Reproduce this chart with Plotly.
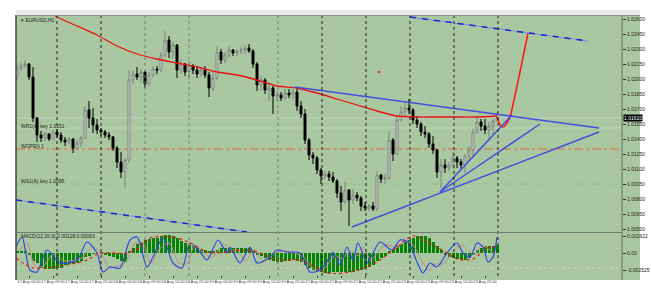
import plotly.graph_objects as go

W, H = 651, 295

# ---------------- price data (H1 bars) ----------------
bar_index = list(range(121))
open_ = [1.0203, 1.0211, 1.0213, 1.0215, 1.0202, 1.0161, 1.0144, 1.0141, 1.0145, 1.0140,
         1.0147, 1.0144, 1.0139, 1.0137, 1.0140, 1.0131, 1.0136, 1.0141, 1.0169, 1.0161,
         1.0154, 1.0149, 1.0147, 1.0144, 1.0142, 1.0131, 1.0117, 1.0107, 1.0119, 1.0199,
         1.0205, 1.0202, 1.0207, 1.0195, 1.0204, 1.0210, 1.0209, 1.0224, 1.0239, 1.0227,
         1.0234, 1.0209, 1.0215, 1.0207, 1.0213, 1.0209, 1.0205, 1.0209, 1.0204, 1.0191,
         1.0201, 1.0227, 1.0219, 1.0224, 1.0229, 1.0226, 1.0228, 1.0229, 1.0231, 1.0228,
         1.0215, 1.0194, 1.0199, 1.0189, 1.0191, 1.0183, 1.0184, 1.0181, 1.0186, 1.0184,
         1.0187, 1.0173, 1.0165, 1.0139, 1.0124, 1.0121, 1.0109, 1.0103, 1.0105, 1.0102,
         1.0098, 1.0086, 1.0077, 1.0089, 1.0079, 1.0084, 1.0081, 1.0073, 1.0071, 1.0073,
         1.0070, 1.0104, 1.0100, 1.0101, 1.0139, 1.0125, 1.0159, 1.0167, 1.0171, 1.0169,
         1.0159, 1.0155, 1.0147, 1.0145, 1.0135, 1.0129, 1.0107, 1.0114, 1.0111, 1.0114,
         1.0121, 1.0117, 1.0114, 1.0123, 1.0129, 1.0147, 1.0157, 1.0153, 1.0149, 1.0153,
         1.0158]
high = [1.0215, 1.0216, 1.0219, 1.0216, 1.0212, 1.0162, 1.0148, 1.0147, 1.0146, 1.0149,
        1.0150, 1.0147, 1.0142, 1.0142, 1.0141, 1.0139, 1.0143, 1.0173, 1.0178, 1.0171,
        1.0160, 1.0151, 1.0149, 1.0147, 1.0143, 1.0133, 1.0127, 1.0121, 1.0209, 1.0209,
        1.0212, 1.0210, 1.0208, 1.0207, 1.0213, 1.0213, 1.0227, 1.0248, 1.0243, 1.0237,
        1.0235, 1.0220, 1.0216, 1.0218, 1.0215, 1.0213, 1.0212, 1.0213, 1.0207, 1.0207,
        1.0233, 1.0230, 1.0227, 1.0233, 1.0230, 1.0230, 1.0232, 1.0234, 1.0235, 1.0230,
        1.0217, 1.0203, 1.0201, 1.0197, 1.0193, 1.0188, 1.0187, 1.0190, 1.0190, 1.0190,
        1.0191, 1.0178, 1.0170, 1.0141, 1.0127, 1.0123, 1.0111, 1.0108, 1.0108, 1.0107,
        1.0100, 1.0093, 1.0097, 1.0090, 1.0090, 1.0087, 1.0083, 1.0077, 1.0075, 1.0077,
        1.0108, 1.0105, 1.0105, 1.0147, 1.0141, 1.0163, 1.0173, 1.0177, 1.0180, 1.0171,
        1.0163, 1.0157, 1.0153, 1.0147, 1.0143, 1.0130, 1.0120, 1.0120, 1.0117, 1.0127,
        1.0123, 1.0120, 1.0125, 1.0133, 1.0150, 1.0163, 1.0160, 1.0160, 1.0157, 1.0160,
        1.0167]
low = [1.0199, 1.0208, 1.0211, 1.0199, 1.0157, 1.0137, 1.0137, 1.0138, 1.0138, 1.0139,
       1.0141, 1.0136, 1.0133, 1.0135, 1.0126, 1.0130, 1.0132, 1.0140, 1.0151, 1.0146,
       1.0145, 1.0143, 1.0141, 1.0139, 1.0128, 1.0111, 1.0101, 1.0091, 1.0116, 1.0195,
       1.0199, 1.0196, 1.0191, 1.0193, 1.0202, 1.0205, 1.0207, 1.0222, 1.0221, 1.0221,
       1.0201, 1.0205, 1.0203, 1.0200, 1.0205, 1.0201, 1.0203, 1.0201, 1.0182, 1.0188,
       1.0199, 1.0215, 1.0216, 1.0221, 1.0223, 1.0223, 1.0225, 1.0225, 1.0226, 1.0211,
       1.0188, 1.0188, 1.0185, 1.0178, 1.0165, 1.0178, 1.0178, 1.0179, 1.0181, 1.0180,
       1.0168, 1.0161, 1.0135, 1.0119, 1.0115, 1.0105, 1.0095, 1.0100, 1.0098, 1.0096,
       1.0081, 1.0068, 1.0075, 1.0053, 1.0075, 1.0078, 1.0068, 1.0068, 1.0068, 1.0068,
       1.0068, 1.0096, 1.0095, 1.0099, 1.0118, 1.0123, 1.0158, 1.0161, 1.0165, 1.0155,
       1.0151, 1.0143, 1.0141, 1.0131, 1.0125, 1.0101, 1.0091, 1.0106, 1.0108, 1.0110,
       1.0111, 1.0110, 1.0106, 1.0118, 1.0121, 1.0145, 1.0148, 1.0145, 1.0138, 1.0145,
       1.0158]
close = [1.0211, 1.0213, 1.0215, 1.0202, 1.0161, 1.0144, 1.0141, 1.0145, 1.0140, 1.0147,
         1.0144, 1.0139, 1.0137, 1.0140, 1.0131, 1.0136, 1.0141, 1.0169, 1.0161, 1.0154,
         1.0149, 1.0147, 1.0144, 1.0142, 1.0131, 1.0117, 1.0107, 1.0119, 1.0199, 1.0205,
         1.0202, 1.0207, 1.0195, 1.0204, 1.0210, 1.0209, 1.0224, 1.0239, 1.0227, 1.0234,
         1.0209, 1.0215, 1.0207, 1.0213, 1.0209, 1.0205, 1.0209, 1.0204, 1.0191, 1.0201,
         1.0227, 1.0219, 1.0224, 1.0229, 1.0226, 1.0228, 1.0229, 1.0231, 1.0228, 1.0215,
         1.0194, 1.0199, 1.0189, 1.0191, 1.0183, 1.0184, 1.0181, 1.0186, 1.0184, 1.0187,
         1.0173, 1.0165, 1.0139, 1.0124, 1.0121, 1.0109, 1.0103, 1.0105, 1.0102, 1.0098,
         1.0086, 1.0077, 1.0089, 1.0079, 1.0084, 1.0081, 1.0073, 1.0071, 1.0073, 1.0070,
         1.0104, 1.0100, 1.0101, 1.0139, 1.0125, 1.0159, 1.0167, 1.0171, 1.0169, 1.0159,
         1.0155, 1.0147, 1.0145, 1.0135, 1.0129, 1.0107, 1.0114, 1.0111, 1.0114, 1.0121,
         1.0117, 1.0114, 1.0123, 1.0129, 1.0147, 1.0157, 1.0153, 1.0149, 1.0153, 1.0158,
         1.0161]

# moving average (red)
ma_idx = [9, 10, 15, 20, 25, 30, 35, 40, 45, 50, 55, 60, 65, 70, 75, 80, 85, 90, 95, 100, 105, 110, 115, 120]
ma_val = [1.0265, 1.0262, 1.0253, 1.0244, 1.0233, 1.0225, 1.0220, 1.0216, 1.0212, 1.0207, 1.0204, 1.0199,
          1.0193, 1.0191, 1.0186, 1.0180, 1.0174, 1.0168, 1.0163, 1.0162, 1.0162, 1.0162, 1.0162, 1.0163]

# hand-drawn forecast path (red)
fc_idx = [120, 120.75, 121.5, 122.5, 123.25, 127.75]
fc_val = [1.0162, 1.0154, 1.0152, 1.0156, 1.0162, 1.0246]

# trend lines (blue): (start idx, start price, end idx, end price)
trend_solid = [
    (69.5, 1.0192, 145.5, 1.0151),
    (83.75, 1.0052, 145.5, 1.0147),
    (105.75, 1.0087, 130.75, 1.0155),
    (105.75, 1.0087, 123.75, 1.0164),
]
trend_dashed = [
    (98.25, 1.0262, 142.75, 1.0238),
    (-0.25, 1.0079, 57.5, 1.0047),
]

# horizontal levels
current_price = 1.0161
level_faint = 1.0151
level_orange = 1.0130
level_green = 1.0095

session_black = [10, 21, 76.25, 87.25, 98.25, 109.25, 120.25]
session_grey = [32, 43, 65.25]

price_ticks = [1.0260, 1.0245, 1.0230, 1.0215, 1.0200, 1.0185, 1.0170, 1.0155,
               1.0140, 1.0125, 1.0110, 1.0095, 1.0080, 1.0065, 1.0050]
price_tick_text = ["1.02600", "1.02450", "1.02300", "1.02150", "1.02000", "1.01850", "1.01700",
                   "1.01550", "1.01400", "1.01250", "1.01100", "1.00950", "1.00800", "1.00650", "1.00500"]

time_ticks = [3, 9, 15, 21, 27, 33, 39, 45, 51, 57, 63, 69, 75, 81, 87, 93, 99, 105, 111, 117]
time_text = ["17 Aug 03:00", "17 Aug 09:00", "17 Aug 15:00", "17 Aug 21:00", "18 Aug 03:00",
             "18 Aug 09:00", "18 Aug 15:00", "18 Aug 21:00", "19 Aug 03:00", "19 Aug 09:00",
             "19 Aug 15:00", "19 Aug 21:00", "22 Aug 03:00", "22 Aug 09:00", "22 Aug 15:00",
             "22 Aug 21:00", "23 Aug 03:00", "23 Aug 09:00", "23 Aug 15:00", "23 Aug 21:00"]

# ---------------- oscillator data ----------------
macd_hist = [0.0003, 0.0003, 0.0002, -0.0002, -0.0012, -0.0015, -0.0022, -0.0024, -0.0024, -0.0024,
             -0.0023, -0.0022, -0.0018, -0.0017, -0.0016, -0.0015, -0.0012, -0.0006, -0.0004, -0.0001,
             0.0000, -0.0001, -0.0002, -0.0004, -0.0006, -0.0009, -0.0012, -0.0014, 0.0002, 0.0008,
             0.0013, 0.0017, 0.0019, 0.0021, 0.0022, 0.0023, 0.0025, 0.0027, 0.0027, 0.0026,
             0.0022, 0.0018, 0.0015, 0.0012, 0.0010, 0.0008, 0.0006, 0.0004, 0.0002, 0.0002,
             0.0005, 0.0007, 0.0007, 0.0008, 0.0008, 0.0008, 0.0008, 0.0008, 0.0007, 0.0004,
             -0.0002, -0.0005, -0.0008, -0.0010, -0.0012, -0.0013, -0.0013, -0.0012, -0.0012, -0.0011,
             -0.0012, -0.0014, -0.0018, -0.0022, -0.0025, -0.0027, -0.0029, -0.0030, -0.0030, -0.0029,
             -0.0028, -0.0029, -0.0028, -0.0029, -0.0028, -0.0026, -0.0025, -0.0023, -0.0021, -0.0018,
             -0.0012, -0.0008, -0.0004, 0.0003, 0.0006, 0.0010, 0.0014, 0.0017, 0.0020, 0.0023,
             0.0025, 0.0026, 0.0025, 0.0022, 0.0017, 0.0010, 0.0004, -0.0002, -0.0006, -0.0008,
             -0.0009, -0.0010, -0.0010, -0.0007, -0.0002, 0.0004, 0.0008, 0.0010, 0.0010, 0.0011,
             0.0012]
sig_idx = [-0.25, 4, 12.5, 17.5, 20.75, 27.5, 30.75, 33.25, 39, 43.25, 47.5, 50, 56.5, 60.75,
           65, 70.75, 77.5, 83.25, 87.5, 90.75, 95, 99, 104, 107.5, 110, 114, 117.5, 120]
sig_val = [-0.00075, -0.00225, -0.0018, -0.00105, 0, 0, 0.0009, 0.00225, 0.0024, 0.0015, 0.00015, 0,
           0.00045, 0, -0.00105, -0.00105, -0.003, -0.00285, -0.0021, -0.00105, 0.0009, 0.00255,
           0.0012, 0, -0.0009, -0.0009, 0.00075, 0.0009]
wave_idx = [-0.25, 1.25, 3.25, 5, 7.5, 10.75, 15, 17.5, 20, 21.5, 23.25, 25.75, 28.25, 30, 32.5, 34,
            36.5, 39, 41.25, 43.25, 45.75, 47.5, 50.25, 52.5, 53.25, 55.75, 58.25, 60, 63.25, 65,
            67.5, 70.75, 73.25, 75.75, 78.25, 79, 80.75, 82.5, 84, 85.25, 87.5, 89, 90.75, 93.75,
            95.75, 97.75, 100, 101.5, 103.25, 105, 107.5, 110, 111.5, 113.25, 115, 116.5, 117.75, 119, 120]
wave_val = [0.0009, 0.0024, -0.00255, -0.00285, 0.00045, -0.0015, -0.00105, 0.00165, 0, -0.00285,
            -0.0021, -0.00225, 0.00195, 0.0024, -0.0021, -0.0006, 0.00225, -0.0015, -0.00225, 0.0015,
            0.00015, -0.00105, 0.00195, 0, 0.0009, -0.0015, 0.0009, -0.0015, -0.0006, 0.00045,
            0.00015, 0, -0.00285, -0.00255, -0.0006, 0.00015, -0.0018, 0.0009, -0.00105, 0.0015,
            -0.0015, 0, 0.00165, 0.00045, 0.00195, 0.00165, -0.00135, -0.003, -0.0015, -0.0021,
            0, 0.0015, 0, -0.0006, 0.0015, 0.0009, -0.00135, -0.0006, 0.0024]
wave2_idx = [0.5, 2.5, 4.5, 6.5, 9, 12, 16, 19, 21.5, 23, 25, 27, 29.5, 31.5, 33.5, 35.5, 38, 40.5,
             42.5, 44.5, 47, 49, 51.5, 54, 55, 57, 59.5, 61.5, 64.5, 66.5, 69, 72, 74.5, 77, 79.5,
             81, 83.5, 85.5, 86.5, 88.5, 90.5, 92, 95, 97, 99, 101.5, 103, 104.5, 106.5, 109, 111,
             113, 114.5, 116, 118, 119.5]
wave2_val = [0.0003, 0.0015, -0.0020, -0.0020, -0.0002, -0.0012, -0.0008, 0.0010, -0.0005, -0.0022,
             -0.0020, -0.0015, 0.0015, 0.0015, -0.0016, 0.0005, 0.0015, -0.0015, -0.0016, 0.0012,
             -0.0002, -0.0006, 0.0014, 0.0004, 0.0005, -0.0012, 0.0005, -0.0012, 0.0, 0.0003,
             0.0001, -0.0008, -0.0026, -0.0022, -0.0004, -0.0008, 0.0002, -0.0004, 0.0009, -0.0010,
             0.0003, 0.0013, 0.0008, 0.0018, 0.0012, -0.0015, -0.0026, -0.0017, -0.0016, 0.0002,
             0.0012, 0.0002, -0.0002, 0.0010, 0.0006, -0.0008]
osc_ticks = [0.00255, 0.0, -0.00255]
osc_tick_text = ["0.002622", "0.00", "-0.002525"]
osc_level = -0.00225

# ---------------- layout helpers (pixel -> paper) ----------------
def px(x):
    return x / W

def py(y):
    return 1 - y / H

GREEN = "#a9c8a2"
FONT = "Liberation Sans"

fig = go.Figure()

fig.add_trace(go.Candlestick(
    x=bar_index, open=open_, high=high, low=low, close=close,
    increasing=dict(line=dict(color="#7c867c", width=1), fillcolor="#d9ddd9"),
    decreasing=dict(line=dict(color="#000000", width=1), fillcolor="#000000"),
    whiskerwidth=0, xaxis="x", yaxis="y", showlegend=False, hoverinfo="skip"))

fig.add_trace(go.Scatter(x=ma_idx, y=ma_val, mode="lines",
                         line=dict(color="#ee1010", width=1.3, shape="spline", smoothing=0.6),
                         xaxis="x", yaxis="y", showlegend=False, hoverinfo="skip"))
fig.add_trace(go.Scatter(x=fc_idx, y=fc_val, mode="lines",
                         line=dict(color="#ff1a1a", width=1.6, shape="spline", smoothing=0.5),
                         xaxis="x", yaxis="y", showlegend=False, hoverinfo="skip"))
fig.add_trace(go.Scatter(x=[90.5], y=[1.0207], mode="markers",
                         marker=dict(color="#ff2020", size=2, symbol="square"),
                         xaxis="x", yaxis="y", showlegend=False, hoverinfo="skip"))

for (x0, y0, x1, y1) in trend_solid:
    fig.add_trace(go.Scatter(x=[x0, x1], y=[y0, y1], mode="lines",
                             line=dict(color="#4052dc", width=1.5),
                             xaxis="x", yaxis="y", showlegend=False, hoverinfo="skip"))
for (x0, y0, x1, y1) in trend_dashed:
    fig.add_trace(go.Scatter(x=[x0, x1], y=[y0, y1], mode="lines",
                             line=dict(color="#7f8ed6", width=1),
                             xaxis="x", yaxis="y", showlegend=False, hoverinfo="skip"))
    fig.add_trace(go.Scatter(x=[x0, x1], y=[y0, y1], mode="lines",
                             line=dict(color="#1426d0", width=1.5, dash="6px,6px"),
                             xaxis="x", yaxis="y", showlegend=False, hoverinfo="skip"))

# oscillator
fig.add_trace(go.Bar(x=bar_index, y=macd_hist, marker=dict(color="#078407", line=dict(width=0)),
                     width=0.75, xaxis="x2", yaxis="y2", showlegend=False, hoverinfo="skip"))
fig.add_trace(go.Scatter(x=wave2_idx, y=wave2_val, mode="lines",
                         line=dict(color="#c58a8a", width=1, shape="spline", smoothing=0.8),
                         xaxis="x2", yaxis="y2", showlegend=False, hoverinfo="skip"))
fig.add_trace(go.Scatter(x=wave_idx, y=wave_val, mode="lines",
                         line=dict(color="#3346e0", width=1.2, shape="spline", smoothing=0.8),
                         xaxis="x2", yaxis="y2", showlegend=False, hoverinfo="skip"))
fig.add_trace(go.Scatter(x=sig_idx, y=sig_val, mode="lines",
                         line=dict(color="#f01818", width=1.2, dash="dot", shape="spline", smoothing=0.8),
                         xaxis="x2", yaxis="y2", showlegend=False, hoverinfo="skip"))

shapes = []
# green background & toolbar strip
shapes.append(dict(type="rect", xref="paper", yref="paper", x0=px(16), x1=px(640), y0=py(280), y1=py(15),
                   fillcolor=GREEN, line=dict(width=0), layer="below"))
shapes.append(dict(type="rect", xref="paper", yref="paper", x0=px(16), x1=px(640), y0=py(15), y1=py(10),
                   fillcolor="#e9e9e9", line=dict(width=0), layer="below"))
# horizontal levels
for lvl, col, dash, wdt in [(current_price, "#c4cfc2", "solid", 1), (level_faint, "#b8d6b2", "solid", 1),
                            (level_orange, "#e0683a", "dashdot", 1), (level_green, "#86c486", "dashdot", 1)]:
    shapes.append(dict(type="line", xref="paper", yref="y", x0=px(16), x1=px(622), y0=lvl, y1=lvl,
                       line=dict(color=col, width=wdt, dash=dash), layer="below"))
shapes.append(dict(type="line", xref="paper", yref="y2", x0=px(16), x1=px(622), y0=osc_level, y1=osc_level,
                   line=dict(color="#c8d4c6", width=1, dash="dot"), layer="below"))
# session separators
for s in session_black:
    shapes.append(dict(type="line", xref="x", yref="paper", x0=s, x1=s, y0=py(276), y1=py(16),
                       line=dict(color="#202020", width=1, dash="dot")))
for s in session_grey:
    shapes.append(dict(type="line", xref="x", yref="paper", x0=s, x1=s, y0=py(276), y1=py(16),
                       line=dict(color="#6f7f6f", width=1, dash="dot")))
# frame lines
shapes.append(dict(type="line", xref="paper", yref="paper", x0=px(16), x1=px(16), y0=py(280), y1=py(15),
                   line=dict(color="#3c463c", width=1.5)))
shapes.append(dict(type="line", xref="paper", yref="paper", x0=px(622), x1=px(622), y0=py(280), y1=py(15),
                   line=dict(color="#5e6e5e", width=1)))
shapes.append(dict(type="line", xref="paper", yref="paper", x0=px(16), x1=px(622), y0=py(232.5), y1=py(232.5),
                   line=dict(color="#6e7e6e", width=1)))
shapes.append(dict(type="line", xref="paper", yref="paper", x0=px(16), x1=px(640), y0=py(15.5), y1=py(15.5),
                   line=dict(color="#8a968a", width=1)))

annotations = []
def label(x, y, text, size=5, color="#1e261e"):
    annotations.append(dict(xref="paper", yref="paper", x=px(x), y=py(y), text=text, showarrow=False,
                            xanchor="left", yanchor="middle", font=dict(family=FONT, size=size, color=color)))

label(19, 20, "▾ EURUSD,H1")
label(19, 126, "WR1(A) key 1.0151")
label(19, 146, "WOPEN 1")
label(19, 181, "WS1(A) key 1.0095")
label(19, 236, "MACD(12,26,9) 0.00128 0.00093")
annotations.append(dict(xref="paper", yref="y", x=px(623), y=current_price, text="1.01610", showarrow=False,
                        xanchor="left", yanchor="middle", bgcolor="#000000", borderpad=0,
                        font=dict(family=FONT, size=5, color="#ffffff")))

fig.update_layout(
    width=W, height=H, margin=dict(l=0, r=0, t=0, b=0, autoexpand=False),
    paper_bgcolor="#ffffff", plot_bgcolor="rgba(0,0,0,0)",
    showlegend=False, bargap=0, shapes=shapes, annotations=annotations,
    xaxis=dict(domain=[px(16), px(622)], range=[-0.25, 151.25], showticklabels=False, showgrid=False,
               zeroline=False, rangeslider=dict(visible=False), anchor="y", fixedrange=True,
               automargin=False),
    yaxis=dict(domain=[py(232), py(16)], range=[1.0047, 1.0263], side="right", showgrid=False,
               zeroline=False, tickvals=price_ticks, ticktext=price_tick_text, ticks="outside",
               ticklen=3, tickcolor="#303830", tickfont=dict(family=FONT, size=5, color="#1e261e"),
               anchor="x", automargin=False),
    xaxis2=dict(domain=[px(16), px(622)], range=[-0.25, 151.25], matches="x", showgrid=False,
                zeroline=False, anchor="y2", tickvals=time_ticks, ticktext=time_text, ticks="outside",
                ticklen=2, tickangle=0, tickcolor="#303830", automargin=False,
                tickfont=dict(family=FONT, size=4, color="#3a443a")),
    yaxis2=dict(domain=[py(275), py(233)], range=[-0.0033, 0.0030], side="right", showgrid=False,
                zeroline=False, tickvals=osc_ticks, ticktext=osc_tick_text, ticks="outside",
                ticklen=3, tickcolor="#303830", tickfont=dict(family=FONT, size=5, color="#1e261e"),
                anchor="x2", automargin=False),
)

fig.write_html("out.html")
